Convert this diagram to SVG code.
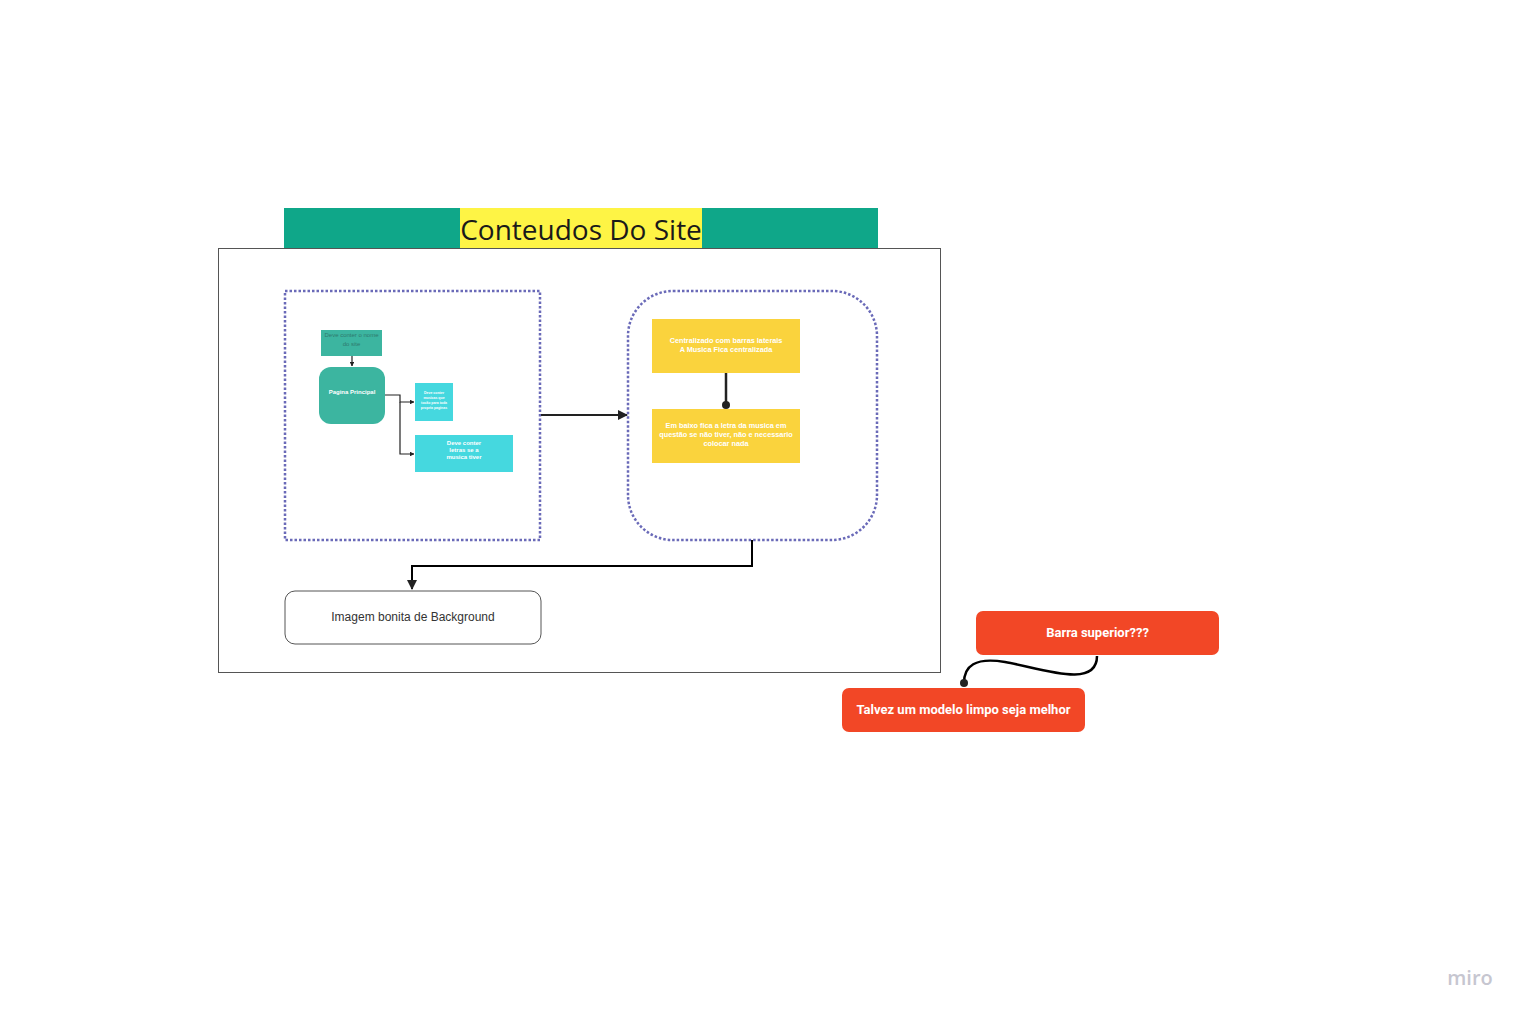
<svg xmlns="http://www.w3.org/2000/svg" width="1530" height="1020" viewBox="0 0 1530 1020">
<defs>
<style>
.dot{fill:none;stroke:#6a6ab8;stroke-width:2.5;stroke-dasharray:2.5 2}
.ln{fill:none;stroke:#222;}
.wt{fill:#fff;font-family:"Liberation Sans",Arial,sans-serif;font-weight:bold;text-anchor:middle}
.rd{fill:#f24726}
.rt{fill:#fff;font-family:Roboto,"Liberation Sans",sans-serif;font-weight:bold;font-size:13px;text-anchor:middle}
</style>
<marker id="ah" viewBox="0 0 10 10" refX="9" refY="5" markerWidth="5" markerHeight="5" orient="auto"><path d="M0,0L10,5L0,10z" fill="#222"/></marker>
<marker id="ahs" viewBox="0 0 10 10" refX="9" refY="5" markerWidth="4" markerHeight="4" orient="auto"><path d="M0,0L10,5L0,10z" fill="#222"/></marker>
<marker id="dt" viewBox="0 0 10 10" refX="5" refY="5" markerWidth="4" markerHeight="4"><circle cx="5" cy="5" r="4" fill="#222"/></marker>
</defs>
<rect width="1530" height="1020" fill="#fff"/>
<g id="frame">
<rect x="218.5" y="248.5" width="722" height="424" fill="#fff" stroke="#555" stroke-width="1"/>
</g>
<g id="header">
<rect x="284" y="208" width="594" height="40" fill="#0fa789"/>
<rect x="460" y="208" width="242" height="40" fill="#fef445"/>
<text x="581" y="240" font-family="'Open Sans',sans-serif" font-size="28" fill="#1a1a1a" text-anchor="middle">Conteudos Do Site</text>
</g>
<g id="group-left">
<rect class="dot" x="285" y="291" width="255" height="249"/>
</g>
<g id="group-right">
<rect class="dot" x="628" y="291" width="249" height="249" rx="45"/>
</g>
<g id="connectors">
<line class="ln" x1="541" y1="415" x2="627" y2="415" stroke-width="2" marker-end="url(#ah)"/>
<line class="ln" x1="352" y1="356" x2="352" y2="366" stroke-width="1.2" marker-end="url(#ahs)"/>
<path class="ln" d="M385,395 H400 V402 H414" stroke-width="1.2" marker-end="url(#ahs)"/>
<path class="ln" d="M400,402 V454 H414" stroke-width="1.2" marker-end="url(#ahs)"/>
<line class="ln" x1="726" y1="373" x2="726" y2="405" stroke-width="2.5" marker-end="url(#dt)"/>
<path d="M752,540 V566 H412 V589" fill="none" stroke="#000" stroke-width="2" marker-end="url(#ah)"/>
<path d="M1097,656 C1097,690 1040,668 1005,662 C975,657 964,666 964,683" fill="none" stroke="#000" stroke-width="2.5" marker-end="url(#dt)"/>
</g>
<g id="node-nome">
<rect x="321" y="330" width="61" height="26" fill="#3cb5a0"/>
<text x="351.5" y="337" font-family="'Liberation Sans',sans-serif" font-size="6" fill="#2f7a6e" text-anchor="middle">Deve conter o nome</text>
<text x="351.5" y="346" font-family="'Liberation Sans',sans-serif" font-size="6" fill="#2f7a6e" text-anchor="middle">do site</text>
</g>
<g id="node-principal">
<rect x="319" y="367" width="66" height="57" rx="12" fill="#3cb5a0"/>
<text class="wt" x="352" y="394" font-size="6">Pagina Principal</text>
</g>
<g id="node-musicas">
<rect x="415" y="383" width="38" height="38" fill="#45d8df"/>
<text class="wt" x="434" y="394" font-size="3.5">Deve conter</text>
<text class="wt" x="434" y="399" font-size="3.5">musicas que</text>
<text class="wt" x="434" y="404" font-size="3.5">tocão para toda</text>
<text class="wt" x="434" y="409" font-size="3.5">propria paginas</text>
</g>
<g id="node-letras">
<rect x="415" y="435" width="98" height="37" fill="#45d8df"/>
<text class="wt" x="464" y="445" font-size="6">Deve conter</text>
<text class="wt" x="464" y="452" font-size="6">letras se a</text>
<text class="wt" x="464" y="459" font-size="6">musica tiver</text>
</g>
<g id="node-centralizado">
<rect x="652" y="319" width="148" height="54" fill="#fad33d"/>
<text class="wt" x="726" y="343" font-size="7.3">Centralizado com barras laterais</text>
<text class="wt" x="726" y="352" font-size="7.3">A Musica Fica centralizada</text>
</g>
<g id="node-embaixo">
<rect x="652" y="409" width="148" height="54" fill="#fad33d"/>
<text class="wt" x="726" y="428" font-size="7.3">Em baixo fica a letra da musica em</text>
<text class="wt" x="726" y="437" font-size="7.3">questão se não tiver, não e necessario</text>
<text class="wt" x="726" y="446" font-size="7.3">colocar nada</text>
</g>
<g id="node-background">
<rect x="285" y="591" width="256" height="53" rx="10" fill="#fff" stroke="#555" stroke-width="1"/>
<text x="413" y="621" font-family="'Liberation Sans',Arial,sans-serif" font-size="12" fill="#333" text-anchor="middle">Imagem bonita de Background</text>
</g>
<g id="node-barra">
<rect class="rd" x="976" y="611" width="243" height="44" rx="7"/>
<text class="rt" x="1097.5" y="637">Barra superior???</text>
</g>
<g id="node-talvez">
<rect class="rd" x="842" y="688" width="243" height="44" rx="7"/>
<text class="rt" x="963.5" y="714">Talvez um modelo limpo seja melhor</text>
</g>
<text x="1470" y="985" font-family="'Open Sans',sans-serif" font-size="20" fill="#c6c6d0" text-anchor="middle" font-weight="600">miro</text>
</svg>
